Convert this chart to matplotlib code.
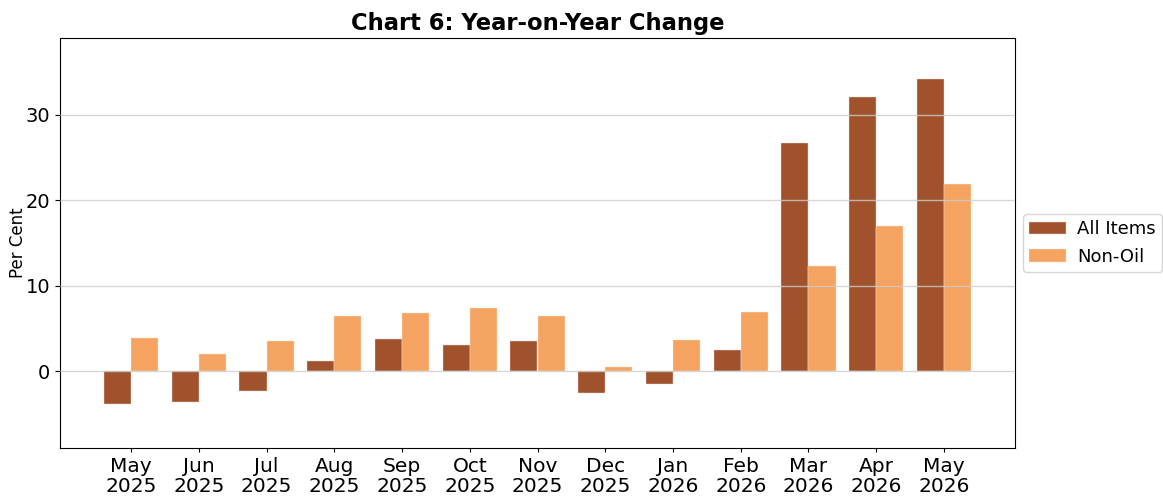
import matplotlib
matplotlib.use("Agg")
import matplotlib.pyplot as plt
import numpy as np

months = ["May\n2025", "Jun\n2025", "Jul\n2025", "Aug\n2025", "Sep\n2025", "Oct\n2025",
          "Nov\n2025", "Dec\n2025", "Jan\n2026", "Feb\n2026", "Mar\n2026", "Apr\n2026", "May\n2026"]
all_items = [-3.8, -3.65, -2.3, 1.2, 3.75, 3.1, 3.5, -2.6, -1.5, 2.45, 26.7, 32.1, 34.2]
non_oil = [3.85, 2.0, 3.5, 6.45, 6.85, 7.4, 6.45, 0.45, 3.6, 6.9, 12.3, 17.0, 21.9]

fig = plt.figure(figsize=(11.63, 4.99), dpi=100)
ax = fig.add_axes([60/1163, 1 - 448/499, (1015-60)/1163, (448-38)/499])

x = np.arange(len(months))
w = 0.4
ax.bar(x - w/2, all_items, w, color="#A0522D", edgecolor="#f5ddd0", linewidth=0.3, label="All Items", zorder=2)
ax.bar(x + w/2, non_oil, w, color="#F4A460", edgecolor="#fde6d0", linewidth=0.3, label="Non-Oil", zorder=2)

ax.set_xticks(x)
ax.set_xticklabels(months, fontsize=14.5, linespacing=1.05)
ax.tick_params(axis="y", labelsize=14)
ax.tick_params(axis="x", length=3)
ax.set_xlim(-1.05, 13.05)
ax.set_ylim(-9, 39)
ax.set_yticks([0, 10, 20, 30])
ax.yaxis.grid(True, color="#cccccc", alpha=0.8, linewidth=1, zorder=3)
ax.set_axisbelow(False)
ax.set_ylabel("Per Cent", fontsize=12, labelpad=-1)
ax.set_title("Chart 6: Year-on-Year Change", fontsize=16.3, fontweight="bold")
ax.legend(loc="center left", bbox_to_anchor=(1.0, 0.5), fontsize=13,
          handletextpad=0.65, borderaxespad=0.45, borderpad=0.35)

fig.savefig("out.png", dpi=100)
